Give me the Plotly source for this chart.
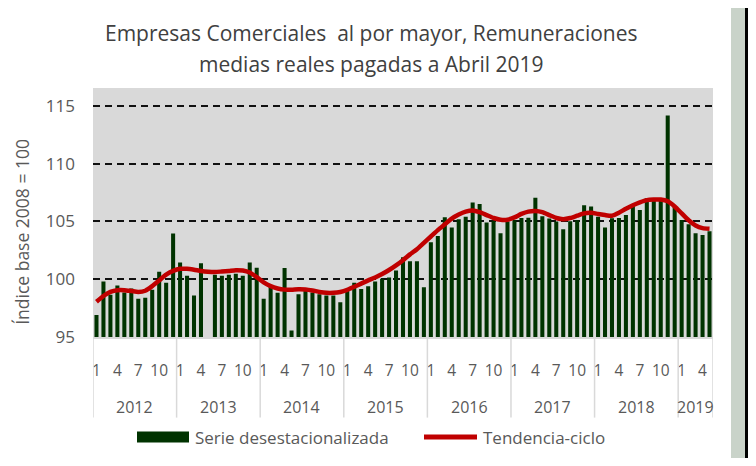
import plotly.graph_objects as go

# ---- data ----
years = ["2012", "2013", "2014", "2015", "2016", "2017", "2018", "2019"]
months_per_year = [12, 12, 12, 12, 12, 12, 12, 5]
month_ticks = ["1", "4", "7", "10"]
y_ticks = [95, 100, 105, 110, 115]

serie = [
    96.9, 99.8, 98.65, 99.45, 98.85, 99.2, 98.3, 98.4, 99.1, 100.65, 99.7, 103.95,
    101.45, 100.3, 98.6, 101.38, 94.8, 100.38, 100.3, 100.38, 100.47, 100.3, 101.45, 101.0,
    98.3, 99.38, 98.82, 100.98, 95.56, 98.7, 99.0, 98.85, 98.7, 98.6, 98.6, 98.0,
    99.0, 99.7, 99.15, 99.4, 99.8, 100.05, 100.15, 100.75, 101.9, 101.55, 101.55, 99.3,
    103.2, 103.75, 105.36, 104.47, 105.2, 105.4, 106.65, 106.5, 104.9, 105.07, 103.98, 105.0,
    105.1, 105.3, 105.33, 107.05, 105.45, 105.25, 105.0, 104.32, 105.02, 105.1, 106.4, 106.3,
    105.4, 104.47, 105.27, 105.3, 105.56, 106.43, 106.0, 107.0, 106.86, 106.8, 114.17, 106.3,
    105.13, 104.75, 103.98, 103.83, 104.15,
]
tendencia = [
    98.05, 98.55, 98.9, 99.05, 99.05, 98.98, 98.9, 99.0, 99.4, 99.9, 100.4, 100.72,
    100.9, 100.9, 100.82, 100.72, 100.65, 100.62, 100.67, 100.72, 100.78, 100.75, 100.58, 100.18,
    99.72, 99.4, 99.2, 99.1, 99.1, 99.14, 99.12, 99.03, 98.9, 98.82, 98.82, 98.9,
    99.08, 99.35, 99.62, 99.9, 100.15, 100.45, 100.8, 101.2, 101.65, 102.15, 102.6, 103.15,
    103.7, 104.25, 104.75, 105.25, 105.6, 105.85, 105.95, 105.8, 105.55, 105.3, 105.15, 105.15,
    105.35, 105.65, 105.85, 105.9, 105.8, 105.55, 105.3, 105.2, 105.3, 105.5, 105.7, 105.75,
    105.65, 105.55, 105.5, 105.75, 106.1, 106.4, 106.65, 106.85, 106.9, 106.9, 106.75, 106.3,
    105.7, 105.1, 104.65, 104.42, 104.36,
]

# ---- derived positions ----
x = list(range(len(serie)))
month_num = []
for n in months_per_year:
    month_num += list(range(1, n + 1))
tickvals = [i for i, m in enumerate(month_num) if str(m) in month_ticks]
ticktext = [str(month_num[i]) for i in tickvals]

bounds = [-0.5]
for n in months_per_year:
    bounds.append(bounds[-1] + n)

# page body has an 8px margin: figure pixel = screen pixel - 8
OFF = 8
W, H = 740, 450
PL, PR, PT, PB = 93, 713, 88, 337.3          # plot area in screen pixels
L, T = PL - OFF, PT - OFF
R = W - (PR - OFF)
B = H - (PB - OFF)
pw, ph = W - L - R, H - T - B


def px(xs):
    return (xs - PL) / pw


def py(ys):
    return (PB - ys) / ph


FONT = "Open Sans"
GREY = "#595959"

fig = go.Figure()
fig.add_bar(x=x, y=serie, marker_color="#003300", marker_line_width=0,
            name="Serie desestacionalizada", showlegend=False)
fig.add_scatter(x=x, y=tendencia, mode="lines", name="Tendencia-ciclo",
                line=dict(color="#c00000", width=4.5, shape="spline", smoothing=0.6),
                showlegend=False)

shapes = []
annotations = []


def label(text, x, y, size, xref="paper", xanchor="center", color=GREY, angle=0):
    annotations.append(dict(text=text, xref=xref, yref="paper", x=x, y=y,
                            xanchor=xanchor, yanchor="middle", textangle=angle,
                            showarrow=False, font=dict(family=FONT, size=size, color=color)))


# year dividers
for b in bounds:
    shapes.append(dict(type="line", xref="x", yref="paper", x0=b, x1=b,
                       y0=0, y1=py(418), line=dict(color="#d9d9d9", width=1.5)))
# year labels
for i, yr in enumerate(years):
    label(yr, (bounds[i] + bounds[i + 1]) / 2, py(407), 16, xref="x")

# title
label("Empresas Comerciales  al por mayor, Remuneraciones", px(371), py(33), 21, color="#404040")
label("medias reales pagadas a Abril 2019", px(371), py(64), 21, color="#404040")
# y title
label("Índice base 2008 = 100", px(22), py(232), 17.5, angle=-90)

# legend
shapes.append(dict(type="rect", xref="paper", yref="paper", x0=px(137), x1=px(189),
                   y0=py(443), y1=py(432), fillcolor="#003300", line=dict(width=0)))
label("Serie desestacionalizada", px(193), py(437.5), 17, xanchor="left")
shapes.append(dict(type="line", xref="paper", yref="paper", x0=px(424), x1=px(477),
                   y0=py(437.5), y1=py(437.5), line=dict(color="#c00000", width=5)))
label("Tendencia-ciclo", px(481), py(437.5), 17, xanchor="left")

# frame decorations (right edge)
shapes.append(dict(type="rect", xref="paper", yref="paper", x0=px(731), x1=px(745),
                   y0=py(466), y1=py(0), fillcolor="#c9d3c9", line=dict(width=0), layer="below"))
shapes.append(dict(type="rect", xref="paper", yref="paper", x0=px(745), x1=px(748),
                   y0=py(466), y1=py(0), fillcolor="#000000", line=dict(width=0), layer="below"))

fig.update_layout(
    width=W, height=H,
    margin=dict(l=L, r=R, t=T, b=B, pad=0),
    paper_bgcolor="white", plot_bgcolor="#d9d9d9",
    bargap=0.42,
    font=dict(family=FONT, color=GREY),
    shapes=shapes, annotations=annotations,
    xaxis=dict(range=[-0.5, len(serie) - 0.5], tickvals=tickvals, ticktext=ticktext,
               showgrid=False, zeroline=False, showline=True, linecolor="#d9d9d9",
               linewidth=1.5, ticks="", ticklabelstandoff=19,
               tickfont=dict(family=FONT, size=15.5, color=GREY)),
    yaxis=dict(range=[95, 116.55], tickvals=y_ticks, showgrid=True, gridcolor="#111111",
               gridwidth=1.5, griddash="7px,5px", zeroline=False, showline=False,
               ticks="", ticklabelstandoff=17,
               tickfont=dict(family=FONT, size=17, color=GREY)),
)

fig.write_html("out.html")
